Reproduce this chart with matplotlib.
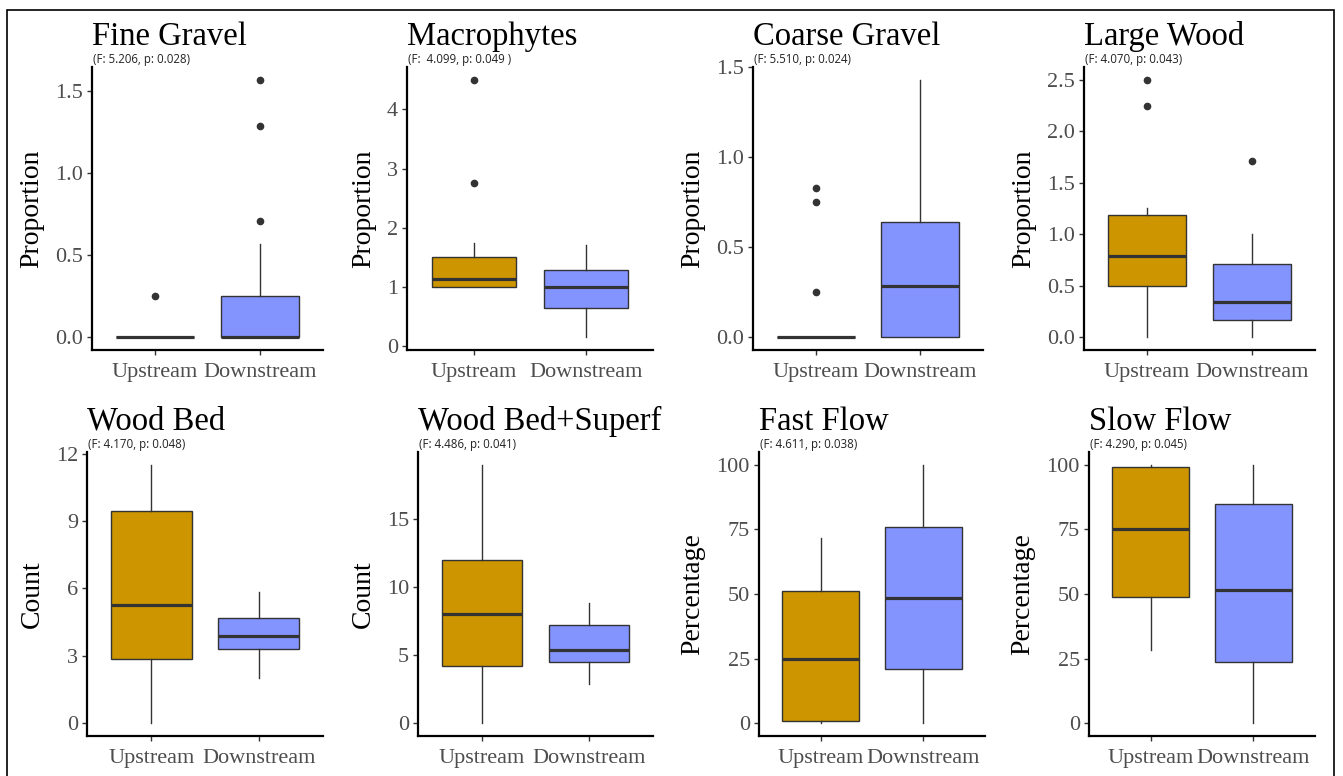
import matplotlib
matplotlib.use("Agg")
import matplotlib.pyplot as plt
from matplotlib.patches import Rectangle

groups = ["Upstream", "Downstream"]
up_color = "#CD9600"
down_color = "#8494FF"

titles = ["Fine Gravel", "Macrophytes", "Coarse Gravel", "Large Wood",
          "Wood Bed", "Wood Bed+Superf", "Fast Flow", "Slow Flow"]
subtitles = ["(F: 5.206, p: 0.028)", "(F:  4.099, p: 0.049 )", "(F: 5.510, p: 0.024)",
             "(F: 4.070, p: 0.043)", "(F: 4.170, p: 0.048)", "(F: 4.486, p: 0.041)",
             "(F: 4.611, p: 0.038)", "(F: 4.290, p: 0.045)"]
ylabels = ["Proportion", "Proportion", "Proportion", "Proportion",
           "Count", "Count", "Percentage", "Percentage"]

# box summaries: whislo, q1, med, q3, whishi
up_stats = [
    [0, 0, 0, 0, 0],
    [1.0, 1.0, 1.13, 1.5, 1.75],
    [0, 0, 0, 0, 0],
    [0, 0.5, 0.79, 1.19, 1.25],
    [0, 2.85, 5.25, 9.45, 11.5],
    [0, 4.2, 8.0, 12.0, 19.0],
    [0, 0.7, 25.0, 51.0, 71.5],
    [28.5, 48.7, 75.0, 99.3, 100],
]
down_stats = [
    [0, 0, 0, 0.25, 0.57],
    [0.15, 0.64, 1.0, 1.28, 1.71],
    [0, 0, 0.285, 0.64, 1.43],
    [0, 0.17, 0.34, 0.71, 1.0],
    [2.0, 3.3, 3.9, 4.7, 5.85],
    [2.9, 4.5, 5.35, 7.2, 8.85],
    [0, 21.0, 48.3, 76.0, 100],
    [0, 23.7, 51.5, 85.0, 100],
]
up_fliers = [[0.25], [2.75, 4.5], [0.25, 0.75, 0.83], [2.25, 2.5], [], [], [], []]
down_fliers = [[0.71, 1.29, 1.57], [], [], [1.71], [], [], [], []]

yticks = [[0, 0.5, 1.0, 1.5], [0, 1, 2, 3, 4], [0, 0.5, 1.0, 1.5],
          [0, 0.5, 1.0, 1.5, 2.0, 2.5], [0, 3, 6, 9, 12], [0, 5, 10, 15],
          [0, 25, 50, 75, 100], [0, 25, 50, 75, 100]]
yfmt = ["%.1f", "%d", "%.1f", "%.1f", "%d", "%d", "%d", "%d"]

W, H = 1343, 776
# axes boxes in pixels: left, right, top, bottom
boxes = [(92, 323, 67, 350), (407, 653, 67, 350), (753, 983, 67, 350), (1084, 1315, 67, 350),
         (87, 323, 452, 736), (418, 653, 452, 736), (759, 985, 452, 736), (1089, 1315, 452, 736)]

serif = "Liberation Serif"
fig = plt.figure(figsize=(W / 100, H / 100), dpi=100)


def make_stats(s, fl):
    return {"whislo": s[0], "q1": s[1], "med": s[2], "q3": s[3], "whishi": s[4], "fliers": fl}


for i in range(8):
    l, r, t, b = boxes[i]
    ax = fig.add_axes([l / W, 1 - b / H, (r - l) / W, (b - t) / H])
    stats = [make_stats(up_stats[i], up_fliers[i]), make_stats(down_stats[i], down_fliers[i])]
    bp = ax.bxp(stats, positions=[1, 2], widths=0.75, patch_artist=True, showcaps=False,
                boxprops=dict(edgecolor="#333333", linewidth=1.0),
                whiskerprops=dict(color="#333333", linewidth=1.0),
                medianprops=dict(color="#333333", linewidth=2.3),
                flierprops=dict(marker="o", markerfacecolor="#333333", markeredgecolor="#333333",
                                markersize=4.5))
    bp["boxes"][0].set_facecolor(up_color)
    bp["boxes"][1].set_facecolor(down_color)

    # ggplot style limits
    vals = up_stats[i] + down_stats[i] + up_fliers[i] + down_fliers[i]
    lo, hi = min(vals), max(vals)
    pad = (hi - lo) * 0.05
    ax.set_ylim(lo - pad, hi + pad)
    ax.set_xlim(0.4, 2.6)

    ax.set_yticks(yticks[i])
    ax.set_yticklabels([yfmt[i] % v for v in yticks[i]])
    ax.set_xticks([1, 2])
    ax.set_xticklabels(groups)
    for sp in ["top", "right"]:
        ax.spines[sp].set_visible(False)
    for sp in ["left", "bottom"]:
        ax.spines[sp].set_linewidth(1.6)
        ax.spines[sp].set_color("black")
    ax.tick_params(length=3.5, width=1.0, color="#333333", labelcolor="#4D4D4D", labelsize=16,
                   pad=3)
    ax.tick_params(axis="x", pad=6)
    for lab in ax.get_xticklabels() + ax.get_yticklabels():
        lab.set_fontfamily(serif)
    ax.set_ylabel(ylabels[i], fontsize=20, fontfamily=serif, labelpad=8)
    ax.annotate(titles[i], xy=(0, 1), xycoords="axes fraction", xytext=(0, 16),
                textcoords="offset points", fontsize=23.5, fontfamily=serif,
                ha="left", va="baseline")
    ax.annotate(subtitles[i], xy=(0, 1), xycoords="axes fraction", xytext=(1, 3),
                textcoords="offset points", fontsize=8.3, fontfamily="Open Sans",
                ha="left", va="baseline", color="#222222")

fig.patches.append(Rectangle((7 / W, -0.01), (1334 - 7) / W, 1 - 10 / H + 0.01,
                             transform=fig.transFigure, fill=False, edgecolor="black",
                             linewidth=1.2))

fig.savefig("out.png", dpi=100)
